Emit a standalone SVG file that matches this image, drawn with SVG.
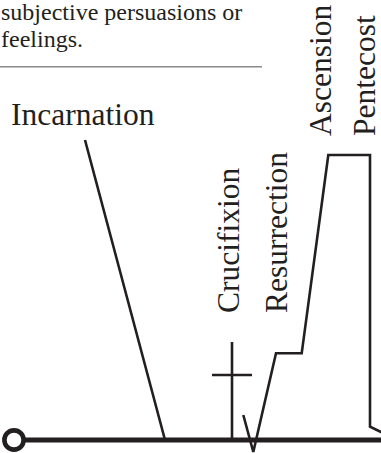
<svg xmlns="http://www.w3.org/2000/svg" width="381" height="453" viewBox="0 0 381 453">
<style>
.t{font-family:"Liberation Serif","Times New Roman",serif;fill:#231f20}
.big{font-size:31.5px}
.small{font-size:24px}
.ln{fill:none;stroke:#231f20;stroke-width:2.6;stroke-linejoin:miter}
</style>
<rect width="381" height="453" fill="#fff"/>
<g id="caption">
<text class="t small" x="1" y="20">subjective persuasions or</text>
<text class="t small" x="1" y="47">feelings.</text>
<line x1="0" y1="66.7" x2="262" y2="66.7" stroke="#8a8a8a" stroke-width="1.6"/>
</g>
<g id="connectors">
<line class="ln" x1="85" y1="140" x2="165" y2="440"/>
<path class="ln" d="M243.3,415 L253.3,452 L276,353.3 L301.7,353.3 L328.3,155 L370,155 L370,426.7 L382,432.5"/>
</g>
<g id="cross">
<line class="ln" x1="232" y1="342" x2="232" y2="440"/>
<line class="ln" x1="212" y1="375" x2="252" y2="375"/>
</g>
<g id="timeline">
<line x1="23" y1="440" x2="381" y2="440" stroke="#231f20" stroke-width="5"/>
<circle cx="14" cy="440" r="9.6" fill="#fff" stroke="#231f20" stroke-width="4.6"/>
</g>
<g id="incarnation"><text class="t big" x="11" y="125">Incarnation</text></g>
<g id="crucifixion"><text class="t big" transform="translate(239,313) rotate(-90)">Crucifixion</text></g>
<g id="resurrection"><text class="t big" transform="translate(287,313) rotate(-90)">Resurrection</text></g>
<g id="ascension"><text class="t big" transform="translate(331,136) rotate(-90)">Ascension</text></g>
<g id="pentecost"><text class="t big" transform="translate(375,136) rotate(-90)">Pentecost</text></g>
</svg>
